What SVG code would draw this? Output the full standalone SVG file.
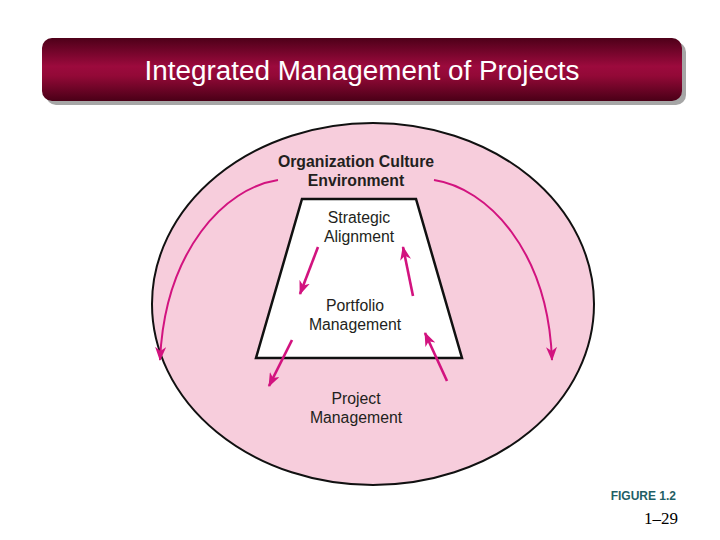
<svg xmlns="http://www.w3.org/2000/svg" width="720" height="540" viewBox="0 0 720 540">
<defs>
<linearGradient id="titleGrad" x1="0" y1="0" x2="0" y2="1">
<stop offset="0" stop-color="#4e0019"/>
<stop offset="0.45" stop-color="#9c0a3d"/>
<stop offset="0.6" stop-color="#930937"/>
<stop offset="1" stop-color="#4a0017"/>
</linearGradient>
<marker id="ah" viewBox="0 0 14 11" refX="13" refY="5.5" markerWidth="14" markerHeight="11" orient="auto" markerUnits="userSpaceOnUse">
<path d="M0,0 L14,5.5 L0,11 L4,5.5 Z" fill="#d2137f"/>
</marker>
<style>
.arr{fill:none;stroke:#d2137f;stroke-width:2.6;marker-end:url(#ah)}
.big{stroke-width:2}
.lbl{font-family:"Liberation Sans",Arial,sans-serif;font-size:15.8px;fill:#231f20;text-anchor:middle}
.bold{font-weight:bold}
</style>
</defs>
<rect width="720" height="540" fill="#ffffff"/>
<g id="title">
<rect x="46" y="42" width="640" height="63" rx="10" fill="#a6a6a6"/>
<rect x="42" y="38" width="640" height="63" rx="10" fill="url(#titleGrad)"/>
<text x="362" y="80" font-family="'Liberation Sans',Arial,sans-serif" font-size="27" fill="#ffffff" text-anchor="middle" textLength="435" lengthAdjust="spacingAndGlyphs">Integrated Management of Projects</text>
</g>
<g id="environment">
<ellipse cx="373" cy="304" rx="221" ry="181" fill="#f7cddc" stroke="#111" stroke-width="2"/>
<text class="lbl bold" x="356" y="167">Organization Culture</text>
<text class="lbl bold" x="356" y="186">Environment</text>
</g>
<g id="pyramid">
<polygon points="302,199 416,199 462,358 256,358" fill="#ffffff" stroke="#111" stroke-width="2.5"/>
<text class="lbl" x="359" y="223">Strategic</text>
<text class="lbl" x="359" y="242">Alignment</text>
<text class="lbl" x="355" y="311">Portfolio</text>
<text class="lbl" x="355" y="330">Management</text>
</g>
<g id="project">
<text class="lbl" x="356" y="404">Project</text>
<text class="lbl" x="356" y="423">Management</text>
</g>
<g id="connectors">
<path class="arr big" d="M278,180 C225,188 165,250 160,360"/>
<path class="arr big" d="M434,180 C487,188 548,250 552,360"/>
<path class="arr" d="M318,247 L300,294"/>
<path class="arr" d="M413,296 L403,247"/>
<path class="arr" d="M292,340 L269,386"/>
<path class="arr" d="M447,381 L425,333"/>
</g>
<g id="caption">
<text x="676" y="500" font-family="'Liberation Sans',Arial,sans-serif" font-size="12" font-weight="bold" fill="#1f5f66" text-anchor="end">FIGURE 1.2</text>
<text x="678" y="524" font-family="'Liberation Serif','Times New Roman',serif" font-size="17" fill="#000" text-anchor="end">1–29</text>
</g>
</svg>
